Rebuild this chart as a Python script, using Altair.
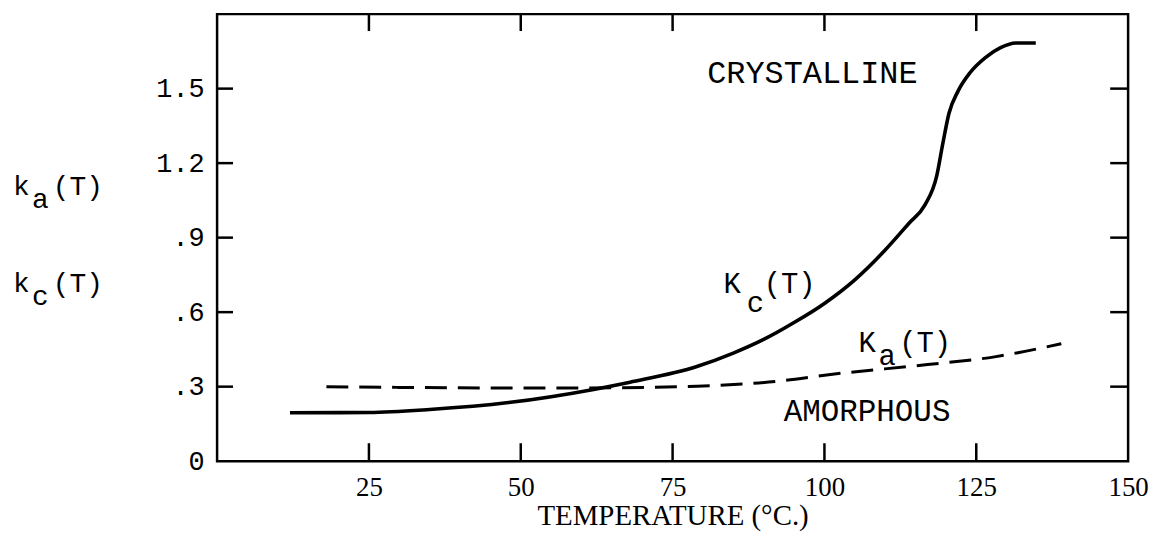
import altair as alt
import pandas as pd

# ---- data ----
kc_temp = [12, 25, 35, 48, 62, 68, 79, 85, 90, 95, 100, 105, 110, 114, 116.5, 118.5, 119.5, 120.5, 122, 124, 126.5, 129, 131.5, 134.8]
kc_val = [0.195, 0.196, 0.208, 0.236, 0.289, 0.318, 0.381, 0.435, 0.49, 0.558, 0.635, 0.73, 0.85, 0.96, 1.03, 1.15, 1.28, 1.40, 1.49, 1.565, 1.625, 1.665, 1.684, 1.684]

ka_temp = [18, 30, 45, 60, 70, 79, 92, 101, 117, 128, 139]
ka_val = [0.300, 0.297, 0.295, 0.295, 0.297, 0.302, 0.321, 0.349, 0.389, 0.42, 0.473]

x_ticks = [25, 50, 75, 100, 125, 150]
x_inner_ticks = [25, 50, 75, 100, 125]
y_ticks = [0, 0.3, 0.6, 0.9, 1.2, 1.5]
y_tick_labels = ["0", ".3", ".6", ".9", "1.2", "1.5"]
y_inner_ticks = [0.3, 0.6, 0.9, 1.2, 1.5]

W, H = 915, 449
MONO = "Liberation Mono"
XFONT = "Liberation Serif"

xs = alt.Scale(domain=[0, 150], nice=False, zero=False)
ys = alt.Scale(domain=[0, 1.8], nice=False, zero=False)

label_expr = "[" + ",".join("'%s'" % s for s in y_tick_labels) + "][round(datum.value/0.3)]"

X_AX = alt.Axis(
    values=x_ticks, ticks=False, domain=False, grid=False, labelFlush=False,
    labelFont=XFONT, labelFontSize=27, labelPadding=13, labelColor="black",
    title="TEMPERATURE (°C.)", titleFont=XFONT, titleFontSize=29, titleFontWeight="normal",
    titleColor="black", titlePadding=2)
Y_AX = alt.Axis(
    values=y_ticks, labelExpr=label_expr, ticks=False, domain=False, grid=False,
    labelFont=MONO, labelFontSize=27, labelPadding=13, labelColor="black", title=None)

kc_df = pd.DataFrame({"T": kc_temp, "k": kc_val})
ka_df = pd.DataFrame({"T": ka_temp, "k": ka_val})

kc_line = alt.Chart(kc_df).mark_line(color="black", strokeWidth=3.6, interpolate="monotone").encode(
    x=alt.X("T:Q", scale=xs, axis=X_AX),
    y=alt.Y("k:Q", scale=ys, axis=Y_AX),
)

ka_line = alt.Chart(ka_df).mark_line(color="black", strokeWidth=3, strokeDash=[22, 11], interpolate="monotone").encode(
    x=alt.X("T:Q", scale=xs, axis=X_AX),
    y=alt.Y("k:Q", scale=ys, axis=Y_AX),
)

xt_df = pd.DataFrame({"T": x_inner_ticks})
yt_df = pd.DataFrame({"k": y_inner_ticks})

tick_len = 18
bottom_ticks = alt.Chart(xt_df).mark_rule(color="black", strokeWidth=2.5).encode(
    x=alt.X("T:Q", scale=xs, axis=X_AX), y=alt.value(H), y2=alt.value(H - tick_len))
top_ticks = alt.Chart(xt_df).mark_rule(color="black", strokeWidth=2.5).encode(
    x=alt.X("T:Q", scale=xs, axis=X_AX), y=alt.value(0), y2=alt.value(tick_len - 1))
left_ticks = alt.Chart(yt_df).mark_rule(color="black", strokeWidth=2.5).encode(
    y=alt.Y("k:Q", scale=ys, axis=Y_AX), x=alt.value(0), x2=alt.value(tick_len - 2))
right_ticks = alt.Chart(yt_df).mark_rule(color="black", strokeWidth=2.5).encode(
    y=alt.Y("k:Q", scale=ys, axis=Y_AX), x=alt.value(W), x2=alt.value(W - tick_len))


def dtext(s, tx, ky, size=30, align="left"):
    return alt.Chart(pd.DataFrame({"s": [s]})).mark_text(
        align=align, baseline="alphabetic", font=MONO, fontSize=size, color="black"
    ).encode(x=alt.X(datum=tx, scale=xs, axis=X_AX), y=alt.Y(datum=ky, scale=ys, axis=Y_AX), text="s:N")


def ptext(s, px, py, size=28):
    return alt.Chart(pd.DataFrame({"s": [s]})).mark_text(
        align="left", baseline="alphabetic", font=MONO, fontSize=size, color="black"
    ).encode(x=alt.value(px), y=alt.value(py), text="s:N")


annotations = [
    dtext("CRYSTALLINE", 80.7, 1.524, 32),
    dtext("AMORPHOUS", 93.3, 0.160, 31),
    dtext("K", 83.4, 0.678, 29),
    dtext("c", 87.2, 0.601, 29),
    dtext("(T)", 90.0, 0.678, 29),
    dtext("K", 105.6, 0.441, 29),
    dtext("a", 108.9, 0.389, 29),
    dtext("(T)", 112.3, 0.441, 29),
    # y-axis name at the left
    ptext("k", -205, 182),
    ptext("a", -186, 195),
    ptext("(T)", -165, 182),
    ptext("k", -205, 279),
    ptext("c", -186, 292),
    ptext("(T)", -165, 279),
]

chart = alt.layer(
    kc_line, ka_line, bottom_ticks, top_ticks, left_ticks, right_ticks, *annotations
).properties(
    width=W, height=H,
    autosize=alt.AutoSizeParams(type="none"),
    padding={"left": 210, "top": 5, "right": 25, "bottom": 71},
    background="white",
).configure_view(stroke="black", strokeWidth=2.5)

chart.save("out.html", embed_options={"renderer": "svg", "actions": False})
